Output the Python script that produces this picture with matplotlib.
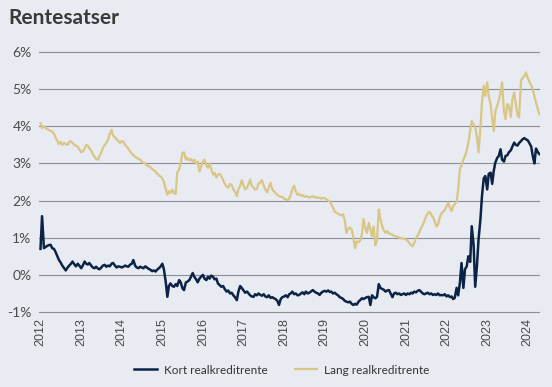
import matplotlib
matplotlib.use("Agg")
import matplotlib.pyplot as plt
import matplotlib.dates as mdates
import pandas as pd

# Semi-monthly observations (1st and 15th), Jan 2012 - Apr 2024
dates = pd.date_range("2012-01-01", periods=296, freq="SMS")

kort = [
    0.7, 1.58, 0.72, 0.75, 0.78, 0.8, 0.81, 0.72, 0.7, 0.62, 0.5, 0.4, 0.33, 0.25, 0.18, 0.12, 0.2, 0.25, 0.3, 0.36, 0.28, 0.23, 0.3, 0.25,
    0.18, 0.25, 0.36, 0.3, 0.28, 0.32, 0.25, 0.2, 0.18, 0.22, 0.17, 0.15, 0.2, 0.25, 0.27, 0.22, 0.25, 0.23, 0.3, 0.32, 0.25, 0.2, 0.23, 0.22,
    0.2, 0.22, 0.25, 0.23, 0.22, 0.27, 0.3, 0.4, 0.25, 0.2, 0.18, 0.22, 0.2, 0.18, 0.23, 0.2, 0.16, 0.14, 0.1, 0.12, 0.09, 0.14, 0.18,
    0.22, 0.3, 0.15, -0.2, -0.59, -0.3, -0.23, -0.3, -0.32, -0.25, -0.3, -0.14, -0.2, -0.36, -0.41, -0.2, -0.18, -0.14, -0.05, 0.05, -0.05, -0.12, -0.2, -0.1,
    -0.05, 0.0, -0.1, -0.14, -0.05, -0.1, -0.02, -0.05, -0.12, -0.1, -0.23, -0.28, -0.32, -0.3, -0.38, -0.45, -0.42, -0.5, -0.48, -0.55, -0.6, -0.68, -0.45, -0.3,
    -0.35, -0.42, -0.48, -0.45, -0.5, -0.55, -0.58, -0.59, -0.52, -0.55, -0.5, -0.54, -0.56, -0.52, -0.58, -0.6, -0.55, -0.62, -0.6, -0.63, -0.65, -0.7, -0.81, -0.65,
    -0.6, -0.58, -0.55, -0.6, -0.52, -0.5, -0.45, -0.52, -0.5, -0.55, -0.54, -0.5, -0.47, -0.52, -0.45, -0.5, -0.48, -0.44, -0.41, -0.45, -0.48, -0.5, -0.54, -0.48,
    -0.45, -0.43, -0.45, -0.42, -0.46, -0.45, -0.5, -0.48, -0.52, -0.55, -0.6, -0.62, -0.65, -0.7, -0.72, -0.74, -0.72, -0.78, -0.81, -0.78, -0.8, -0.72, -0.68,
    -0.63, -0.65, -0.62, -0.6, -0.59, -0.81, -0.55, -0.6, -0.63, -0.59, -0.25, -0.35, -0.38, -0.4, -0.45, -0.42, -0.41, -0.5, -0.6, -0.5, -0.48, -0.52, -0.5, -0.54,
    -0.52, -0.5, -0.54, -0.5, -0.52, -0.48, -0.5, -0.45, -0.47, -0.43, -0.41, -0.45, -0.5, -0.52, -0.5, -0.48, -0.52, -0.5, -0.54, -0.52, -0.54, -0.5, -0.55, -0.54,
    -0.55, -0.52, -0.58, -0.55, -0.6, -0.58, -0.65, -0.62, -0.35, -0.55, -0.2, 0.32, -0.35, 0.15, 0.23, 0.5, 0.35, 1.31, 0.8, -0.32, 0.25, 0.95, 1.49, 2.12,
    2.6, 2.66, 2.3, 2.72, 2.75, 2.45, 2.8, 3.02, 3.15, 3.2, 3.38, 3.1, 3.05, 3.2, 3.22, 3.3, 3.35, 3.45, 3.56, 3.5, 3.48, 3.55, 3.6, 3.65,
    3.68, 3.65, 3.62, 3.55, 3.45, 3.2, 3.0, 3.4, 3.3, 3.25,
]

lang = [
    4.08, 3.95, 4.0, 3.96, 3.92, 3.9, 3.88, 3.85, 3.8, 3.7, 3.6, 3.52, 3.58, 3.5, 3.55, 3.52, 3.5, 3.58, 3.6, 3.55, 3.5, 3.48, 3.45, 3.38,
    3.3, 3.32, 3.4, 3.5, 3.48, 3.4, 3.35, 3.25, 3.18, 3.12, 3.1, 3.2, 3.3, 3.42, 3.5, 3.55, 3.65, 3.8, 3.9, 3.75, 3.7, 3.65, 3.6, 3.55,
    3.6, 3.58, 3.5, 3.45, 3.4, 3.33, 3.27, 3.22, 3.18, 3.15, 3.12, 3.1, 3.05, 3.02, 3.0, 2.95, 2.92, 2.9, 2.85, 2.82, 2.78, 2.72, 2.68,
    2.65, 2.6, 2.5, 2.3, 2.16, 2.25, 2.2, 2.3, 2.2, 2.18, 2.75, 2.85, 3.0, 3.28, 3.3, 3.1, 3.15, 3.08, 3.12, 3.05, 3.1, 3.0, 3.05, 2.78,
    2.9, 3.05, 3.1, 2.95, 2.88, 3.0, 2.85, 2.7, 2.75, 2.62, 2.7, 2.72, 2.65, 2.55, 2.45, 2.38, 2.35, 2.45, 2.42, 2.3, 2.25, 2.12, 2.3, 2.4,
    2.55, 2.4, 2.3, 2.35, 2.45, 2.57, 2.4, 2.35, 2.3, 2.32, 2.45, 2.5, 2.55, 2.4, 2.3, 2.22, 2.35, 2.48, 2.3, 2.25, 2.2, 2.15, 2.12, 2.1,
    2.1, 2.05, 2.03, 2.01, 2.05, 2.15, 2.3, 2.4, 2.25, 2.15, 2.18, 2.13, 2.15, 2.1, 2.12, 2.1, 2.08, 2.1, 2.12, 2.08, 2.1, 2.07, 2.08, 2.05,
    2.07, 2.07, 2.03, 2.0, 1.98, 1.9, 1.82, 1.7, 1.67, 1.65, 1.62, 1.6, 1.63, 1.45, 1.13, 1.25, 1.27, 1.22, 1.0, 0.72, 0.9, 0.88, 0.92,
    1.1, 1.5, 1.25, 1.13, 1.4, 1.22, 1.04, 1.3, 0.8, 0.95, 1.76, 1.5, 1.31, 1.2, 1.13, 1.18, 1.12, 1.1, 1.08, 1.05, 1.04, 1.02, 1.0, 0.99,
    0.98, 0.97, 0.95, 0.92, 0.85, 0.8, 0.77, 0.85, 0.99, 1.05, 1.15, 1.25, 1.35, 1.45, 1.58, 1.65, 1.7, 1.62, 1.55, 1.45, 1.3, 1.35, 1.55, 1.65,
    1.7, 1.75, 1.85, 1.94, 1.8, 1.72, 1.85, 1.9, 1.98, 2.3, 2.85, 2.95, 3.1, 3.2, 3.35, 3.55, 3.9, 4.14, 4.05, 4.0, 3.7, 3.3, 3.95, 4.64,
    5.09, 4.82, 5.18, 4.8, 4.6, 4.2, 3.87, 4.4, 4.55, 4.7, 4.9, 5.18, 4.4, 4.19, 4.6, 4.55, 4.25, 4.7, 4.91, 4.6, 4.3, 4.24, 5.23, 5.3,
    5.35, 5.45, 5.3, 5.2, 5.1, 5.0, 4.8, 4.64, 4.45, 4.32,
]

series_names = ["Kort realkreditrente", "Lang realkreditrente"]
y_ticks = [-1, 0, 1, 2, 3, 4, 5, 6]

BG = "#e8ebf2"
NAVY = "#0b2344"
GOLD = "#d9c685"

fig = plt.figure(figsize=(5.52, 3.87), dpi=100, facecolor=BG)
ax = fig.add_axes([38.5 / 552, 1 - 313.9 / 387, 501.5 / 552, 263.8 / 387])
ax.set_facecolor(BG)

ax.plot(dates, kort, color=NAVY, lw=1.8, label=series_names[0], zorder=3)
ax.plot(dates, lang, color=GOLD, lw=1.6, label=series_names[1], zorder=2)

ax.set_ylim(-1.05, 6.05)
ax.set_xlim(pd.Timestamp("2011-12-14"), pd.Timestamp("2024-04-20"))
ax.set_yticks(y_ticks)
ax.set_yticklabels([f"{v}%" for v in y_ticks], fontfamily="Lato", fontsize=10, color="#4a4a4a")
ax.yaxis.grid(True, color="#8c8f95", lw=0.8)
ax.set_axisbelow(True)
ax.tick_params(axis="y", length=0, pad=5)
ax.tick_params(axis="x", length=0, pad=3)

ax.xaxis.set_major_locator(mdates.YearLocator())
ax.xaxis.set_major_formatter(mdates.DateFormatter("%Y"))
for lbl in ax.get_xticklabels():
    lbl.set_rotation(90)
    lbl.set_fontfamily("Liberation Sans")
    lbl.set_fontsize(9)
    lbl.set_color("#4a4a4a")

for s in ax.spines.values():
    s.set_visible(False)

fig.text(8 / 552, 1 - 18 / 387, "Rentesatser", fontfamily="Lato", fontweight="bold",
         fontsize=15, color="#3a3a3a", ha="left", va="center")

leg = fig.legend(loc="center", bbox_to_anchor=(0.511, 1 - 370 / 387), ncol=2, frameon=False,
                 prop={"family": "Lato", "size": 8.5}, handlelength=1.9, handletextpad=0.6,
                 columnspacing=2.3)
for t in leg.get_texts():
    t.set_color("#333333")

fig.savefig("out.png", dpi=100, facecolor=BG)
